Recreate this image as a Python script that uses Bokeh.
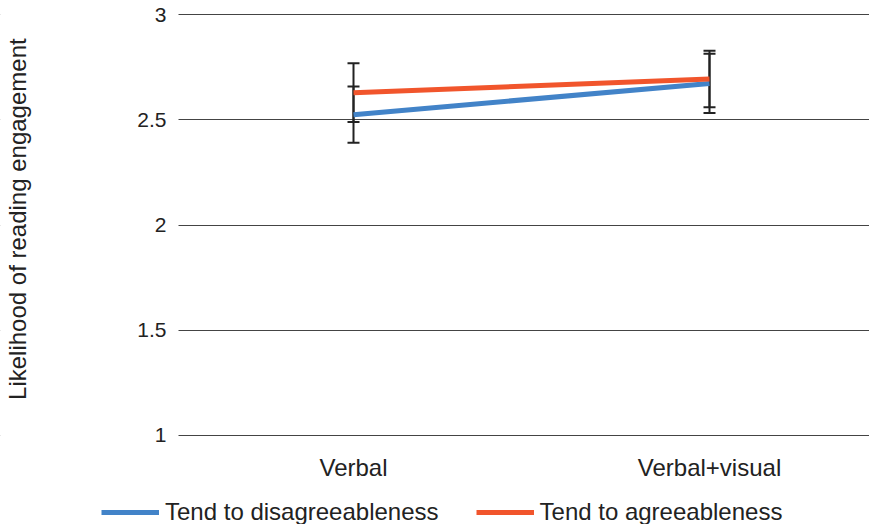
from bokeh.plotting import figure
from bokeh.models import ColumnDataSource, Whisker, TeeHead, Legend, LegendItem, Range1d, FixedTicker, BoxAnnotation
from bokeh.embed import file_html
from bokeh.resources import INLINE

conditions = ["Verbal", "Verbal+visual"]
disagree = [2.525, 2.674]
agree = [2.630, 2.695]
disagree_err = [0.134, 0.141]
agree_err = [0.140, 0.135]
y_ticks = [1, 1.5, 2, 2.5, 3]
y_label = "Likelihood of reading engagement"

FONT = "Liberation Sans"
BLUE = "#4283C8"
ORANGE = "#F1552C"

xs = list(range(len(conditions)))

# layout (pixels)
W = 869
first_px, step_px, axis_px = 353, 356, 178
top_px, data_px, extra_px = 14, 421, 89
x_start = -first_px / step_px
x_end = (W - first_px) / step_px
x_axis_loc = (axis_px - first_px) / step_px
px_per_unit = data_px / (3.002 - 0.998)
y_start = 0.998 - extra_px / px_per_unit
y_end = 3.002 + top_px / px_per_unit

p = figure(frame_width=W, frame_height=top_px + data_px + extra_px, output_backend="svg",
           toolbar_location=None,
           x_range=Range1d(x_start, x_end), y_range=Range1d(y_start, y_end),
           min_border_left=0, min_border_right=0, min_border_top=0, min_border_bottom=0)
p.outline_line_color = None
p.background_fill_color = "white"
p.border_fill_color = "white"

src_d = ColumnDataSource(dict(x=xs, y=disagree,
                              lo=[v - e for v, e in zip(disagree, disagree_err)],
                              hi=[v + e for v, e in zip(disagree, disagree_err)]))
src_a = ColumnDataSource(dict(x=xs, y=agree,
                              lo=[v - e for v, e in zip(agree, agree_err)],
                              hi=[v + e for v, e in zip(agree, agree_err)]))

r_d = p.line("x", "y", source=src_d, line_color=BLUE, line_width=5)
r_a = p.line("x", "y", source=src_a, line_color=ORANGE, line_width=5)

for src in (src_d, src_a):
    w = Whisker(base="x", lower="lo", upper="hi", source=src,
                line_color="#222222", line_width=2,
                upper_head=TeeHead(size=12, line_color="#222222", line_width=2),
                lower_head=TeeHead(size=12, line_color="#222222", line_width=2))
    p.add_layout(w)

# x axis drawn at y = 1 (bottom gridline)
p.xaxis.fixed_location = y_ticks[0]
p.xaxis.ticker = FixedTicker(ticks=xs)
p.xaxis.major_label_overrides = {i: c for i, c in enumerate(conditions)}
p.xaxis.axis_line_color = None
p.xaxis.major_tick_line_color = None
p.xaxis.minor_tick_line_color = None
p.xaxis.major_tick_out = 0
p.xaxis.major_tick_in = 0
p.xaxis.minor_tick_out = 0
p.xaxis.axis_label = None
p.xaxis.major_label_text_font = FONT
p.xaxis.major_label_text_font_size = "24px"
p.xaxis.major_label_text_color = "#222222"
p.xaxis.major_label_standoff = 19

# y axis drawn at the left end of the gridlines
p.yaxis.fixed_location = x_axis_loc
p.yaxis.ticker = FixedTicker(ticks=y_ticks)
p.yaxis.major_label_overrides = {1: "1", 1.5: "1.5", 2: "2", 2.5: "2.5", 3: "3"}
p.yaxis.axis_line_color = None
p.yaxis.major_tick_line_color = None
p.yaxis.minor_tick_line_color = None
p.yaxis.major_tick_out = 0
p.yaxis.major_tick_in = 0
p.yaxis.minor_tick_out = 0
p.yaxis.major_label_text_font = FONT
p.yaxis.major_label_text_font_size = "21px"
p.yaxis.major_label_text_color = "#222222"
p.yaxis.major_label_standoff = 12
p.yaxis.axis_label = "\u00a0" * 13 + y_label
p.yaxis.axis_label_text_font = FONT
p.yaxis.axis_label_text_font_size = "24px"
p.yaxis.axis_label_text_font_style = "normal"
p.yaxis.axis_label_text_color = "#222222"
p.yaxis.axis_label_standoff = 103

p.xgrid.grid_line_color = None
p.ygrid.grid_line_color = "#444444"
p.ygrid.grid_line_width = 1

# white mask so gridlines start at the y axis
mask = BoxAnnotation(left=x_start - 0.1, right=x_axis_loc, fill_color="white", fill_alpha=1.0,
                     line_alpha=0, level="underlay")
p.add_layout(mask)

legend = Legend(items=[LegendItem(label="Tend to disagreeableness", renderers=[r_d]),
                       LegendItem(label="Tend to agreeableness", renderers=[r_a])],
                orientation="horizontal", location=(101, -2),
                padding=0, margin=0, spacing=37,
                glyph_width=58, glyph_height=24, label_height=24, label_standoff=6,
                label_text_font=FONT, label_text_font_size="24px", label_text_color="#222222",
                border_line_alpha=0, background_fill_alpha=0)
p.add_layout(legend, "center")

open("out.html", "w").write(file_html(p, INLINE))
